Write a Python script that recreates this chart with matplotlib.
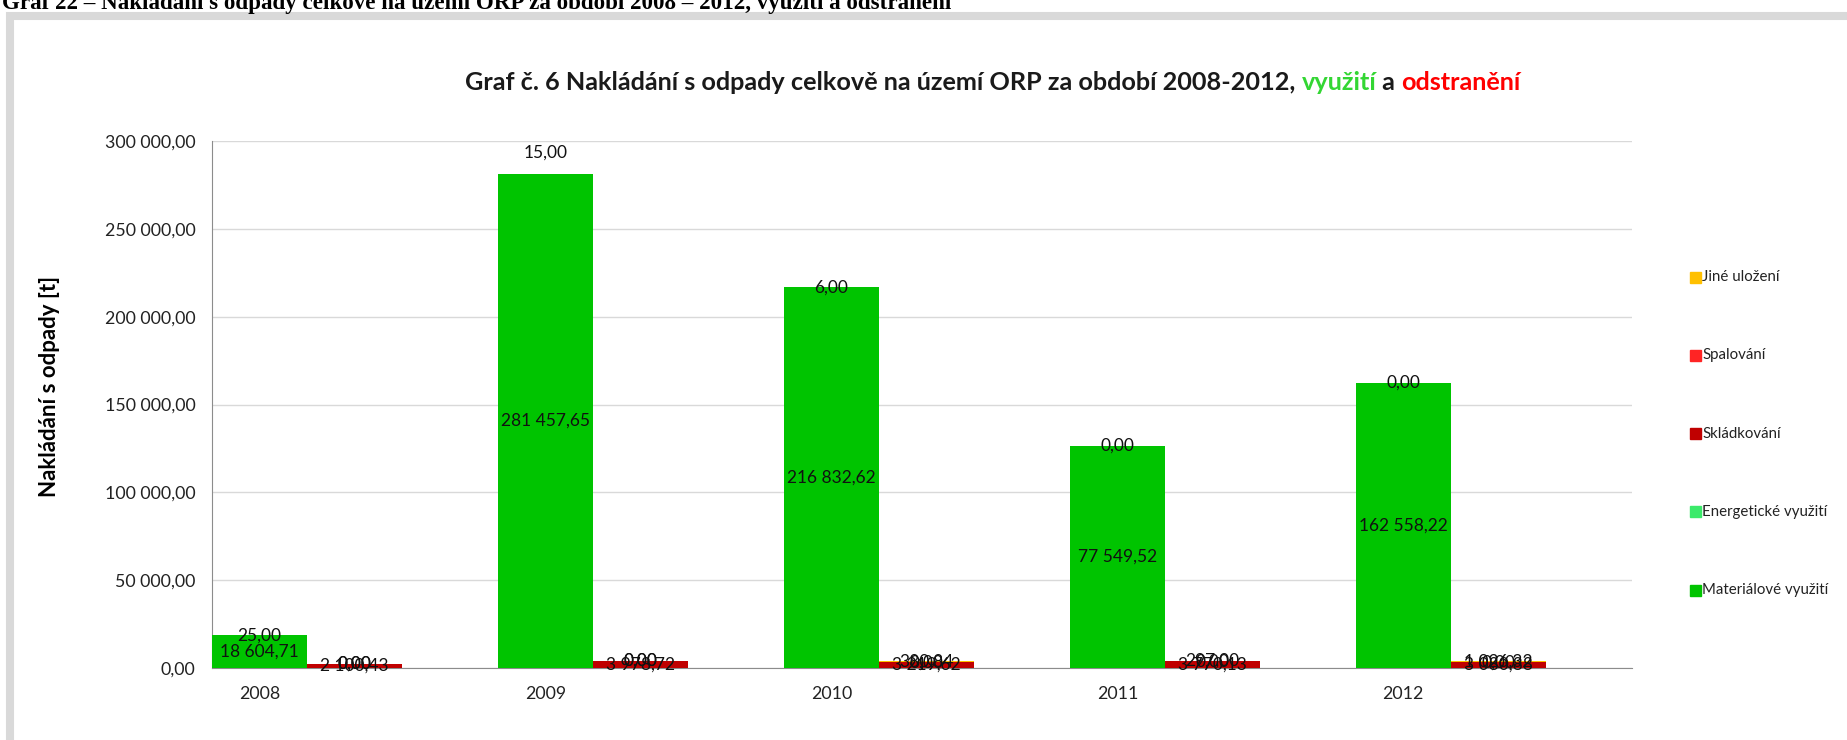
import numpy as np
import matplotlib
matplotlib.use("Agg")
import matplotlib.pyplot as plt
from matplotlib.patches import Rectangle
from matplotlib.ticker import FuncFormatter

years = ["2008", "2009", "2010", "2011", "2012"]

# využití (left bar of each year)
# 2011 bar is drawn taller in the source than its label says, keep both
materialove = [18604.71, 281457.65, 216832.62, 126500.00, 162558.22]
materialove_labels = ["18 604,71", "281 457,65", "216 832,62", "77 549,52", "162 558,22"]
energeticke = [25.00, 15.00, 6.00, 0.00, 0.00]
# odstranění (right bar of each year)
skladkovani = [2100.43, 3978.72, 3219.62, 3770.13, 3080.88]
spalovani = [0.00, 0.00, 0.00, 0.00, 0.00]
jine_ulozeni = [0.00, 0.00, 380.84, 297.00, 1026.32]

colors = {
    "Jiné uložení": "#FFC000",
    "Spalování": "#FF2424",
    "Skládkování": "#C00000",
    "Energetické využití": "#3BEA6A",
    "Materiálové využití": "#00C400",
}

plt.rcParams['font.family'] = ['Lato', 'DejaVu Sans']


def cz(v, pos=None):
    return f"{v:,.2f}".replace(",", " ").replace(".", ",")


W, H = 1847, 740
fig = plt.figure(figsize=(W / 100, H / 100), dpi=100)

# outer grey frame (cut off at right and bottom)
fig.patches.append(Rectangle((10 / W, -0.1), 1.2, 1 - 16 / H + 0.1,
                             transform=fig.transFigure, fill=False,
                             edgecolor="#D9D9D9", linewidth=5.8))

# header of the page, cut off at the top
fig.text(2 / W, 1 - 9 / H,
         "Graf 22 – Nakládání s odpady celkové na území ORP za období 2008 – 2012, využití a odstranění",
         family="Liberation Serif", fontweight="bold", fontsize=16.6,
         va="baseline", ha="left")

ax = fig.add_axes([212 / W, 1 - 667.8 / H, (1632 - 212) / W, (667.8 - 141.3) / H])

x = np.arange(len(years))
w = 0.3325

left_series = [("Materiálové využití", materialove, materialove_labels),
               ("Energetické využití", energeticke, None)]
right_series = [("Skládkování", skladkovani, None), ("Spalování", spalovani, None),
                ("Jiné uložení", jine_ulozeni, None)]

# the 2009 energy label sits a bit above its bar in the source
label_shift = {("Energetické využití", 1): 15}

for offset, series in [(0, left_series), (w, right_series)]:
    bottom = np.zeros(len(years))
    for name, vals, labels in series:
        vals = np.array(vals)
        ax.bar(x + offset, vals, w, bottom=bottom, color=colors[name], zorder=3)
        if labels is None:
            labels = [cz(v) for v in vals]
        for i, (xi, b, v, lab) in enumerate(zip(x + offset, bottom, vals, labels)):
            ax.annotate(lab, xy=(xi, b + v / 2), xytext=(0, label_shift.get((name, i), 0)),
                        textcoords="offset points", ha="center", va="center",
                        fontsize=12.5, color="#111111", zorder=5)
        bottom = bottom + vals

ax.set_xlim(-w / 2, 4.80)
ax.set_ylim(0, 300000)
ax.set_yticks(np.arange(0, 300001, 50000))
ax.yaxis.set_major_formatter(FuncFormatter(cz))
ax.set_xticks(x)
ax.set_xticklabels(years)
ax.tick_params(axis="both", length=0, labelsize=12.8, labelcolor="#222222")
ax.tick_params(axis="x", pad=13)
ax.tick_params(axis="y", pad=12)
ax.grid(axis="y", color="#D9D9D9", linewidth=1, zorder=0)
for s in ["top", "right"]:
    ax.spines[s].set_visible(False)
ax.spines["left"].set_color("#8C8C8C")
ax.spines["bottom"].set_color("#8C8C8C")

fig.text(50 / W, 1 - 386 / H, "Nakládání s odpady [t]", rotation=90,
         ha="center", va="center", fontsize=16, fontweight="bold")

# title with coloured words
tsize = 18.2
t = fig.text(465 / W, 1 - 90 / H,
             "Graf č. 6 Nakládání s odpady celkově na území ORP za období 2008-2012, ",
             fontsize=tsize, fontweight="bold", va="baseline", ha="left",
             color="#1A1A1A")
t = ax.annotate("využití", xy=(1, 0), xycoords=t, fontsize=tsize, fontweight="bold",
                va="bottom", ha="left", color="#33D633", annotation_clip=False)
t = ax.annotate(" a ", xy=(1, 0), xycoords=t, fontsize=tsize, fontweight="bold",
                va="bottom", ha="left", color="#1A1A1A", annotation_clip=False)
t = ax.annotate("odstranění", xy=(1, 0), xycoords=t, fontsize=tsize, fontweight="bold",
                va="bottom", ha="left", color="#FF0000", annotation_clip=False)

# legend
legend_names = ["Jiné uložení", "Spalování", "Skládkování",
                "Energetické využití", "Materiálové využití"]
for i, name in enumerate(legend_names):
    yc = 277 + i * 78.3
    fig.patches.append(Rectangle((1690 / W, 1 - (yc + 5.5) / H), 11 / W, 11 / H,
                                 transform=fig.transFigure, color=colors[name]))
    fig.text(1702 / W, 1 - yc / H, name, fontsize=10.8, va="center", ha="left",
             color="#222222")

fig.savefig("out.png", dpi=100)
